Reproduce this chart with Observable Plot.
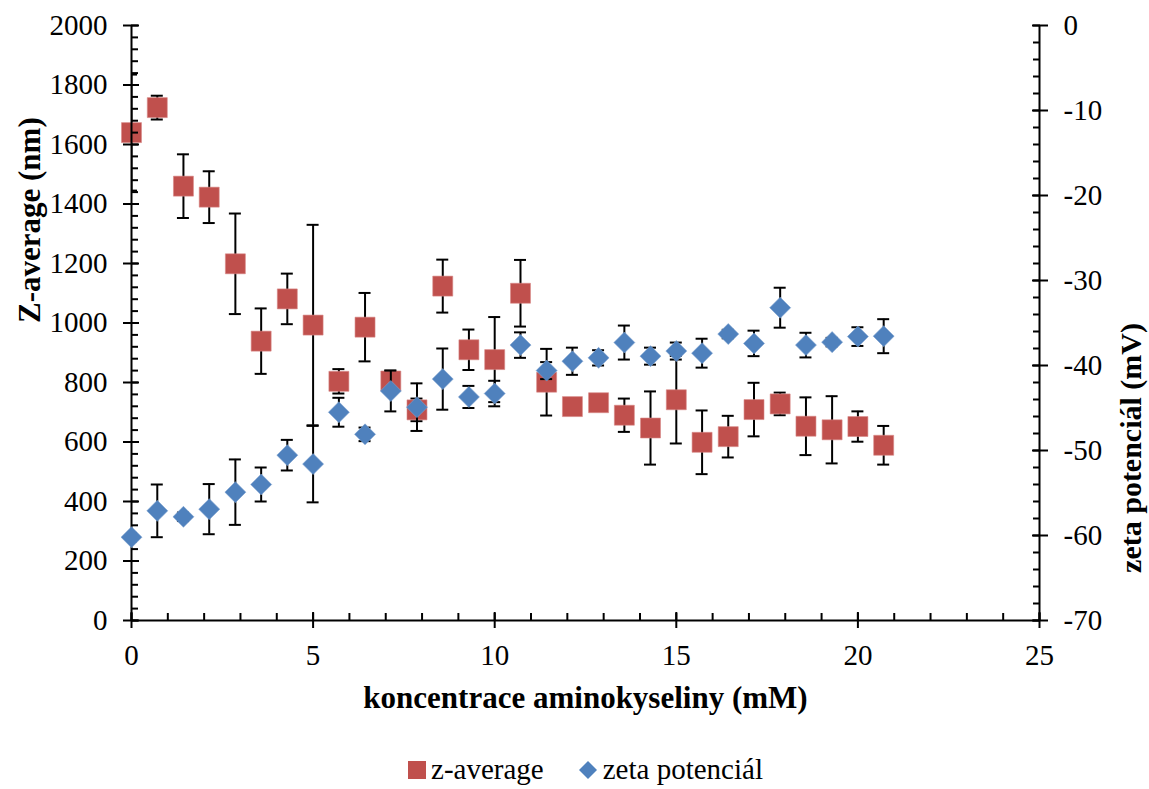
<!DOCTYPE html>
<html lang="cs">
<head>
<meta charset="utf-8">
<script src="https://cdn.jsdelivr.net/npm/d3@7"></script>
<script src="https://cdn.jsdelivr.net/npm/@observablehq/plot@0.6"></script>
<style>
  body { margin: 0; background: #fff; font-family: "Liberation Serif", "Times New Roman", serif; }
  #chart { position: relative; width: 1149px; height: 789px; overflow: hidden; }
  #chart svg.layer { position: absolute; left: 0; top: 0; max-width: none; }
  #chart svg.layer text { font-family: "Liberation Serif", "Times New Roman", serif; }
  #legend { position: absolute; top: 755px; left: 11px; width: 1149px; display: flex; justify-content: center;
            align-items: center; font-size: 29px; line-height: 29px; color: #000; }
  #legend .item { display: flex; align-items: center; }
  #legend .item svg { margin-right: 5px; }
  #legend .item + .item { margin-left: 34px; }
</style>
</head>
<body>
<div id="chart"></div>
<script>
// Concentration of the amino acid (mM)
const conc = [0, 0.71, 1.43, 2.14, 2.86, 3.57, 4.29, 5.0, 5.71, 6.43,
              7.14, 7.86, 8.57, 9.29, 10.0, 10.71, 11.43, 12.14, 12.86, 13.57,
              14.29, 15.0, 15.71, 16.43, 17.14, 17.86, 18.57, 19.29, 20.0, 20.71];

// Z-average particle size (nm) and its standard deviation
const zAverage = [1640, 1724, 1460, 1423, 1199, 939, 1081, 993, 804, 986,
                  805, 708, 1124, 910, 877, 1100, 801, 719, 732, 690,
                  647, 742, 599, 618, 709, 728, 653, 641, 652, 589];
const zAverageErr = [195, 40, 107, 87, 169, 110, 85, 337, 41, 115,
                     35, 38, 89, 68, 143, 112, 112, 15, 15, 56,
                     123, 147, 107, 70, 90, 38, 97, 113, 51, 65];

// Zeta potential (mV) and its standard deviation
const zeta = [-60.2, -57.1, -57.8, -56.9, -54.9, -54.0, -50.55, -51.6, -45.5, -48.1,
              -43.0, -44.9, -41.6, -43.7, -43.3, -37.6, -40.6, -39.5, -39.1, -37.3,
              -38.9, -38.3, -38.55, -36.3, -37.4, -33.2, -37.6, -37.25, -36.6, -36.55];
const zetaErr = [0.5, 3.1, 0.5, 2.95, 3.85, 2.0, 1.8, 4.5, 1.7, 0.8,
                 2.4, 2.8, 3.6, 1.3, 1.5, 1.5, 1.0, 1.6, 0.9, 2.0,
                 1.0, 1.0, 1.7, 0.5, 1.5, 2.35, 1.45, 0.5, 1.1, 2.0];

// Axis ticks
const xTicks = [0, 5, 10, 15, 20, 25];
const xMinor = d3.range(0, 26, 1);
const zTicks = [0, 200, 400, 600, 800, 1000, 1200, 1400, 1600, 1800, 2000];
const zMinor = d3.range(0, 2001, 40);
const zetaTicks = [-70, -60, -50, -40, -30, -20, -10, 0];
const zetaMinor = d3.range(-70, 1, 2);

// Labels
const seriesNames = ["z-average", "zeta potenciál"];
const seriesColors = ["#C0504D", "#4F81BD"];
const xTitle = "koncentrace aminokyseliny (mM)";
const yTitle = "Z-average (nm)";
const y2Title = "zeta potenciál (mV)";

const sizeRows = conc.map((c, i) => ({c, v: zAverage[i], e: zAverageErr[i]}));
const zetaRows = conc.map((c, i) => ({c, v: zeta[i], e: zetaErr[i]}));

const font = `"Liberation Serif", "Times New Roman", serif`;
const frame = {
  width: 1149, height: 720,
  marginTop: 25, marginRight: 110, marginBottom: 100, marginLeft: 131,
  style: {fontFamily: font, fontSize: "29px", background: "transparent", color: "#000", overflow: "visible"}
};

// a square turned 45° for the zeta markers
const diamond = {
  draw(ctx, size) {
    const h = Math.sqrt(size / 2);
    ctx.moveTo(0, -h); ctx.lineTo(h, 0); ctx.lineTo(0, h); ctx.lineTo(-h, 0); ctx.closePath();
  }
};

function errorBars(rows) {
  const o = {stroke: "#000", strokeWidth: 2, clip: true};
  return [
    Plot.ruleX(rows, {x: "c", y1: d => d.v - d.e, y2: d => d.v + d.e, ...o}),
    Plot.ruleY(rows, {x1: "c", x2: "c", y: d => d.v + d.e, insetLeft: -6, insetRight: -6, ...o}),
    Plot.ruleY(rows, {x1: "c", x2: "c", y: d => d.v - d.e, insetLeft: -6, insetRight: -6, ...o})
  ];
}

// left layer: particle size, x axis and left axis
const left = Plot.plot({
  ...frame,
  x: {domain: [0, 25]},
  y: {domain: [0, 2000]},
  marks: [
    ...errorBars(sizeRows),
    Plot.dot(sizeRows, {x: "c", y: "v", symbol: "square", r: 11.28, fill: seriesColors[0], stroke: "#d88a88", strokeWidth: 0.6}),
    Plot.ruleX([0], {stroke: "#000", strokeWidth: 2}),
    Plot.ruleY([0], {stroke: "#000", strokeWidth: 2}),
    Plot.axisY({ticks: zTicks, anchor: "left", tickSize: 8, tickPadding: 16, strokeWidth: 2, fontSize: 29, label: null, tickFormat: d => String(d)}),
    Plot.axisY({ticks: zTicks, anchor: "left", tickSize: -8, strokeWidth: 2, fill: "none", label: null}),
    Plot.axisY({ticks: zMinor, anchor: "left", tickSize: -7, strokeWidth: 2, fill: "none", label: null}),
    Plot.axisX({ticks: xTicks, anchor: "bottom", tickSize: 8, tickPadding: 16, strokeWidth: 2, fontSize: 29, label: null, tickFormat: d => String(d)}),
    Plot.axisX({ticks: xTicks, anchor: "bottom", tickSize: -8, strokeWidth: 2, fill: "none", label: null}),
    Plot.axisX({ticks: xMinor, anchor: "bottom", tickSize: -7, strokeWidth: 2, fill: "none", label: null}),
    Plot.text([yTitle], {text: d => d, frameAnchor: "left", dx: -101, rotate: -90, fontSize: 31, fontWeight: "bold"}),
    Plot.text([xTitle], {text: d => d, frameAnchor: "bottom", dy: 87, fontSize: 31, fontWeight: "bold"})
  ]
});

// right layer: zeta potential on its own y scale
const right = Plot.plot({
  ...frame,
  x: {domain: [0, 25], axis: null},
  y: {domain: [-70, 0]},
  marks: [
    ...errorBars(zetaRows),
    Plot.dot(zetaRows, {x: "c", y: "v", symbol: diamond, r: 8.38, fill: seriesColors[1], stroke: "#7fa3d0", strokeWidth: 0.6}),
    Plot.ruleX([25], {stroke: "#000", strokeWidth: 2}),
    Plot.axisY({ticks: zetaTicks, anchor: "right", tickSize: 8, tickPadding: 16, strokeWidth: 2, fontSize: 29, label: null, tickFormat: d => String(d)}),
    Plot.axisY({ticks: zetaTicks, anchor: "right", tickSize: -8, strokeWidth: 2, fill: "none", label: null}),
    Plot.axisY({ticks: zetaMinor, anchor: "right", tickSize: -7, strokeWidth: 2, fill: "none", label: null}),
    Plot.text([y2Title], {text: d => d, frameAnchor: "right", dx: 92, rotate: -90, fontSize: 30, fontWeight: "bold"})
  ]
});

const chart = document.getElementById("chart");
left.classList.add("layer");
right.classList.add("layer");
chart.appendChild(left);
chart.appendChild(right);

// legend below the plot
const legend = document.createElement("div");
legend.id = "legend";
seriesNames.forEach((name, i) => {
  const item = document.createElement("span");
  item.className = "item";
  const sw = i === 0
    ? `<svg width="18" height="18"><rect x="0" y="0" width="18" height="18" fill="${seriesColors[i]}"/></svg>`
    : `<svg width="20" height="20"><path d="M10,1L19,10L10,19L1,10Z" fill="${seriesColors[i]}"/></svg>`;
  item.innerHTML = sw + `<span>${name}</span>`;
  legend.appendChild(item);
});
chart.appendChild(legend);
</script>
</body>
</html>
